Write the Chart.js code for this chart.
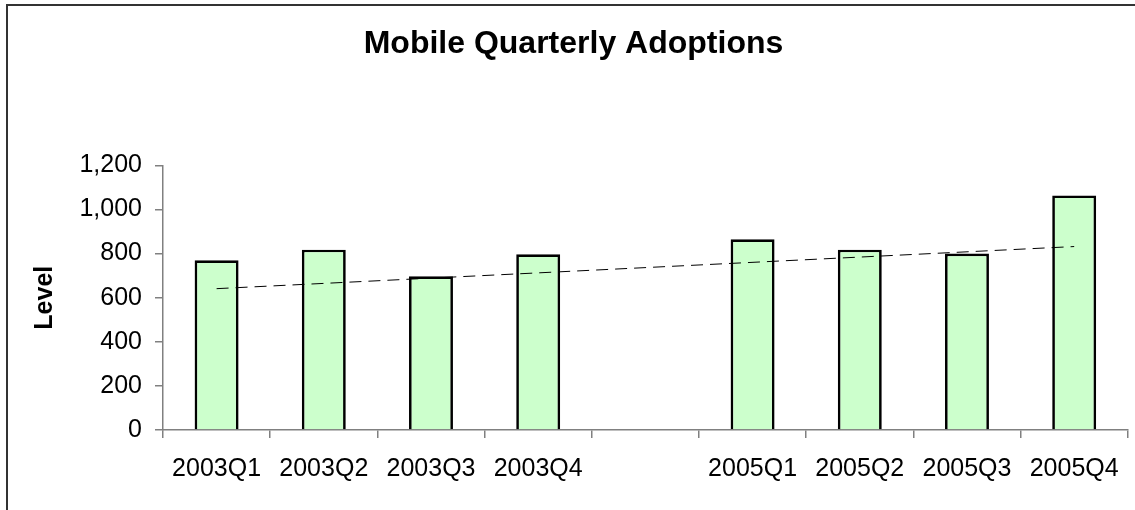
<!DOCTYPE html>
<html>
<head>
<meta charset="utf-8">
<script src="https://cdn.jsdelivr.net/npm/chart.js@4"></script>
<style>
    body { margin: 0; background: #fff; overflow: hidden; }
    #wrap { position: relative; width: 1135px; height: 510px; }
    #frame {
        position: absolute; left: 6px; top: 4px; width: 1200px; height: 600px;
        border-left: 2px solid #333; border-top: 2px solid #333;
    }
    #c { position: absolute; left: 0; top: 0; }
</style>
</head>
<body>
<div id="wrap">
    <div id="frame"></div>
    <canvas id="c" width="1135" height="510"></canvas>
</div>
<script>
const quarters = ["2003Q1", "2003Q2", "2003Q3", "2003Q4", "", "2005Q1", "2005Q2", "2005Q3", "2005Q4"];
const adoptions = [770, 818, 697, 797, null, 865, 818, 800, 1064];
// linear trend, only the two ends
const trend = [641, null, null, null, null, null, null, null, 832];
const yTicks = [0, 200, 400, 600, 800, 1000, 1200];

const fontName = "'Liberation Sans', Arial, sans-serif";

new Chart(document.getElementById("c"), {
    data: {
        labels: quarters,
        datasets: [
            {
                type: "line",
                label: "Trend",
                data: trend,
                spanGaps: true,
                borderColor: "#000",
                borderWidth: 1,
                borderDash: [12, 7],
                pointRadius: 0,
                fill: false,
                order: 0
            },
            {
                type: "bar",
                label: "Level",
                data: adoptions,
                backgroundColor: "#CCFFCC",
                borderColor: "#000",
                borderWidth: 2.7,
                categoryPercentage: 1,
                barPercentage: 0.41,
                order: 1
            }
        ]
    },
    options: {
        responsive: false,
        animation: false,
        layout: { padding: { left: 18, right: 6, top: 0, bottom: 0 } },
        plugins: {
            legend: { display: false },
            tooltip: { enabled: false },
            title: {
                display: true,
                text: "Mobile Quarterly Adoptions",
                color: "#000",
                font: { family: fontName, size: 32, weight: "bold" },
                padding: { top: 25, bottom: 102 }
            }
        },
        scales: {
            x: {
                offset: true,
                border: { color: "#808080", width: 1.5 },
                grid: { offset: true, drawOnChartArea: false, tickLength: 8, color: "#808080", lineWidth: 1.5 },
                ticks: { color: "#000", font: { family: fontName, size: 25 }, padding: 16, maxRotation: 0, autoSkip: false },
                afterFit: (s) => { s.height = 80; }
            },
            y: {
                min: 0,
                max: 1200,
                border: { color: "#808080", width: 1.5 },
                grid: { drawOnChartArea: false, tickLength: 8, color: "#808080", lineWidth: 1.5 },
                afterBuildTicks: (s) => { s.ticks = yTicks.map(v => ({ value: v })); },
                ticks: {
                    color: "#000",
                    font: { family: fontName, size: 25 },
                    padding: 13,
                    callback: (v) => v.toLocaleString("en-US")
                },
                title: {
                    display: true,
                    text: "Level",
                    color: "#000",
                    font: { family: fontName, size: 25, weight: "bold" },
                    padding: { top: 12, bottom: 0 }
                },
                afterFit: (s) => { s.width = 145; }
            }
        }
    }
});
</script>
</body>
</html>
